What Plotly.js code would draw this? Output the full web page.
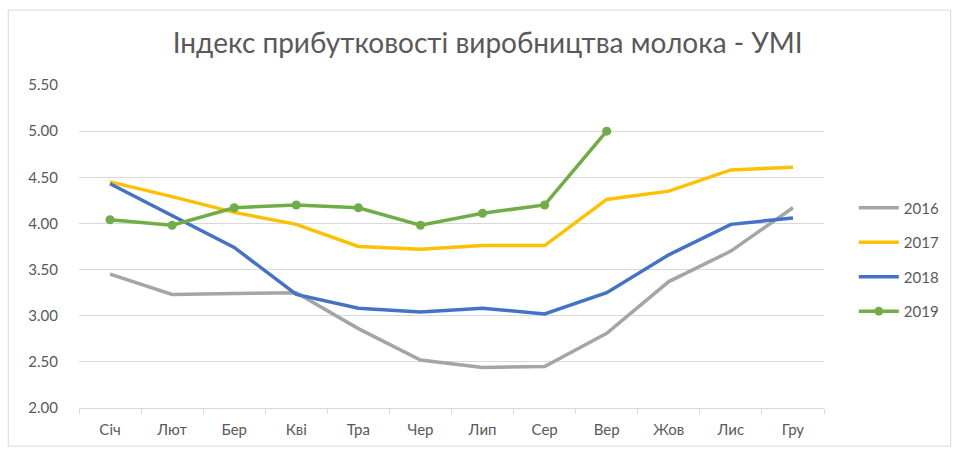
<!DOCTYPE html>
<html>
<head>
<meta charset="utf-8">
<script src="https://cdn.plot.ly/plotly-3.0.1.min.js"></script>
<style>html,body{margin:0;padding:0;background:#fff;}#chart{width:960px;height:450px;}</style>
</head>
<body>
<div id="chart"></div>
<script>
const months = ["Січ","Лют","Бер","Кві","Тра","Чер","Лип","Сер","Вер","Жов","Лис","Гру"];
const y2016 = [3.45,3.23,3.24,3.25,2.86,2.52,2.44,2.45,2.81,3.37,3.70,4.17];
const y2017 = [4.45,4.29,4.12,3.99,3.75,3.72,3.76,3.76,4.26,4.35,4.58,4.61];
const y2018 = [4.43,4.08,3.74,3.23,3.08,3.04,3.08,3.02,3.25,3.66,3.99,4.06];
const y2019 = [4.04,3.98,4.17,4.20,4.17,3.98,4.11,4.20,5.00];
const titleText = "Індекс прибутковості виробництва молока - УМІ";
const yTicks = [2.0,2.5,3.0,3.5,4.0,4.5,5.0,5.5];

const font = "Lato, 'Open Sans', sans-serif";
const traces = [
  {x: months, y: y2016, name: "2016", legendgroup: "a", mode: "lines", line: {color: "#a5a5a5", width: 3.5}},
  {x: months, y: y2017, name: "2017", legendgroup: "b", mode: "lines", line: {color: "#ffc000", width: 3.5}},
  {x: months, y: y2018, name: "2018", legendgroup: "c", mode: "lines", line: {color: "#4472c4", width: 3.5}},
  {x: months.slice(0, y2019.length), y: y2019, name: "2019", legendgroup: "d", mode: "lines+markers",
   line: {color: "#70ad47", width: 3.5}, marker: {color: "#70ad47", size: 9}}
];

const layout = {
  width: 960, height: 450,
  margin: {l: 79, r: 136, t: 85, b: 42},
  paper_bgcolor: "#ffffff", plot_bgcolor: "#ffffff",
  font: {family: font, color: "#595959", size: 14},
  title: {text: titleText, x: 0.508, xanchor: "center", y: 0.905, yanchor: "middle",
          font: {family: font, size: 28, color: "#595959"}},
  xaxis: {type: "category", range: [-0.5, 11.5], tickson: "boundaries", ticks: "outside", ticklen: 5,
          tickcolor: "#d9d9d9", showline: true, linecolor: "#d9d9d9", linewidth: 1,
          showgrid: false, tickfont: {size: 15, color: "#595959"}, ticklabelstandoff: 8, fixedrange: true},
  yaxis: {range: [2, 5.5], tickvals: yTicks, tickformat: ".2f", showgrid: true,
          gridcolor: "#d9d9d9", gridwidth: 1, zeroline: false, showline: false,
          ticks: "", tickfont: {size: 15, color: "#595959"}, ticklabelstandoff: 20, fixedrange: true},
  legend: {x: 1.04, xanchor: "left", y: 0.46, yanchor: "middle", tracegroupgap: 12,
           traceorder: "grouped",
           font: {size: 15, color: "#595959"}, itemwidth: 40, bgcolor: "rgba(0,0,0,0)"},
  shapes: [{type: "rect", xref: "paper", yref: "paper",
            x0: -0.095, x1: 1.17, y0: -0.118, y1: 1.232,
            line: {color: "#d9d9d9", width: 1}, fillcolor: "rgba(0,0,0,0)", layer: "below"}],
  showlegend: true
};

Plotly.newPlot("chart", traces, layout, {displayModeBar: false, staticPlot: true});
</script>
</body>
</html>
